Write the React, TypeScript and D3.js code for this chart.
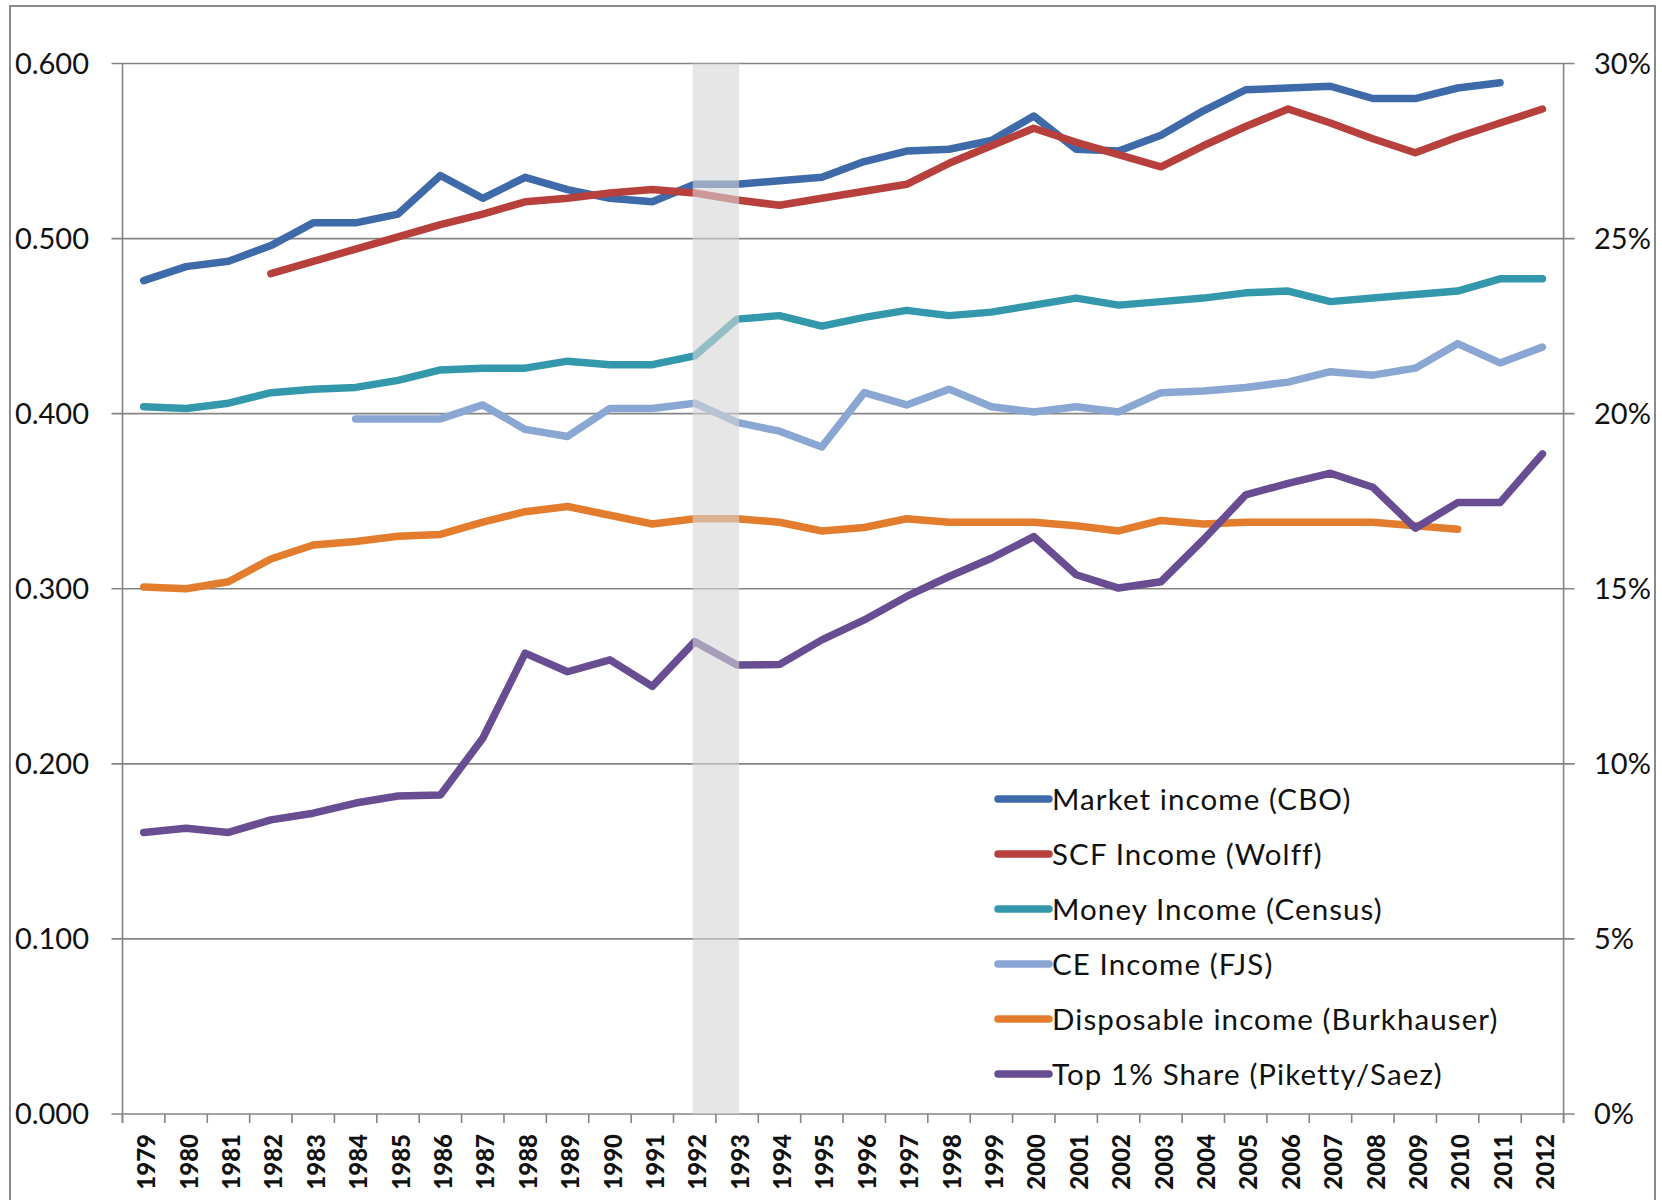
import React from "react";
import * as d3 from "d3";

const years = d3.range(1979, 2013).map(String);

const marketIncomeCBO = [0.476,0.484,0.487,0.496,0.509,0.509,0.514,0.536,0.523,0.535,0.528,0.523,0.521,0.531,0.531,0.533,0.535,0.544,0.550,0.551,0.556,0.570,0.551,0.550,0.559,0.573,0.585,0.586,0.587,0.580,0.580,0.586,0.589,null];
const scfIncomeWolff = [null,null,null,0.480,0.487,0.494,0.501,0.508,0.514,0.521,0.523,0.526,0.528,0.526,0.522,0.519,0.523,0.527,0.531,0.543,0.553,0.563,0.555,0.548,0.541,0.553,0.564,0.574,0.566,0.557,0.549,0.558,0.566,0.574];
const moneyIncomeCensus = [0.404,0.403,0.406,0.412,0.414,0.415,0.419,0.425,0.426,0.426,0.430,0.428,0.428,0.433,0.454,0.456,0.450,0.455,0.459,0.456,0.458,0.462,0.466,0.462,0.464,0.466,0.469,0.470,0.464,0.466,0.468,0.470,0.477,0.477];
const ceIncomeFJS = [null,null,null,null,null,0.397,0.397,0.397,0.405,0.391,0.387,0.403,0.403,0.406,0.395,0.390,0.381,0.412,0.405,0.414,0.404,0.401,0.404,0.401,0.412,0.413,0.415,0.418,0.424,0.422,0.426,0.440,0.429,0.438];
const disposableBurkhauser = [0.301,0.300,0.304,0.317,0.325,0.327,0.330,0.331,0.338,0.344,0.347,0.342,0.337,0.340,0.340,0.338,0.333,0.335,0.340,0.338,0.338,0.338,0.336,0.333,0.339,0.337,0.338,0.338,0.338,0.338,0.336,0.334,null,null];
const top1SharePct = [8.04,8.16,8.04,8.40,8.59,8.88,9.08,9.11,10.73,13.16,12.63,12.97,12.21,13.49,12.82,12.84,13.54,14.11,14.78,15.35,15.87,16.49,15.40,15.02,15.20,16.40,17.68,18.01,18.30,17.90,16.73,17.46,17.46,18.85];

const leftTicks = [0, 0.1, 0.2, 0.3, 0.4, 0.5, 0.6];
const rightTicks = [0, 5, 10, 15, 20, 25, 30];
const bandYears = ["1992", "1993"];

const seriesNames = [
  "Market income (CBO)",
  "SCF Income (Wolff)",
  "Money Income (Census)",
  "CE Income (FJS)",
  "Disposable income (Burkhauser)",
  "Top 1% Share (Piketty/Saez)",
];
const seriesColors = ["#3e6aa9", "#b8403c", "#3398ab", "#8aa6d3", "#e37d2d", "#684d92"];

const FONT = "Lato, 'Open Sans', sans-serif";

export default function App() {
  const W = 1662, H = 1200;
  const left = 122.5, right = 1563.6, top = 63.5, bottom = 1114;

  const x = d3.scaleBand().domain(years).range([left, right]).padding(0);
  const bw = x.bandwidth();
  const cx = (yr: string) => (x(yr) as number) + bw / 2;
  const yL = d3.scaleLinear().domain([0, 0.6]).range([bottom, top]);
  const yR = d3.scaleLinear().domain([0, 30]).range([bottom, top]);

  const series = [
    { vals: marketIncomeCBO, y: yL },
    { vals: scfIncomeWolff, y: yL },
    { vals: moneyIncomeCensus, y: yL },
    { vals: ceIncomeFJS, y: yL },
    { vals: disposableBurkhauser, y: yL },
    { vals: top1SharePct, y: yR },
  ];

  const mkLine = (sc: d3.ScaleLinear<number, number>) =>
    d3
      .line<[string, number | null]>()
      .defined((d) => d[1] != null)
      .x((d) => cx(d[0]))
      .y((d) => sc(d[1] as number));

  const gridColor = "#858585";
  const xTickPositions = d3.range(years.length + 1).map((i) => left + i * bw);

  const legendX0 = 998, legendX1 = 1049, legendTextX = 1052;
  const legendY0 = 799, legendDy = 55;

  return (
    <svg
      width={W}
      height={H}
      style={{ position: "absolute", left: 0, top: 0, background: "#fff" }}
      fontFamily={FONT}
    >
      <rect x={0} y={0} width={W} height={H} fill="#fff" />
      <rect x={10} y={6} width={1645} height={1250} fill="none" stroke="#8a8a8a" strokeWidth={2} />

      {/* gridlines */}
      {leftTicks.map((t) => (
        <line key={"g" + t} x1={left - 11} x2={right + 11} y1={yL(t)} y2={yL(t)} stroke={gridColor} strokeWidth={1.6} />
      ))}
      {/* axes */}
      <line x1={left} x2={left} y1={top} y2={bottom + 9} stroke={gridColor} strokeWidth={1.6} />
      <line x1={right} x2={right} y1={top} y2={bottom + 9} stroke={gridColor} strokeWidth={1.6} />
      {xTickPositions.map((px, i) => (
        <line key={"xt" + i} x1={px} x2={px} y1={bottom} y2={bottom + 9} stroke={gridColor} strokeWidth={1.6} />
      ))}

      {/* left labels */}
      {leftTicks.map((t) => (
        <text key={"ll" + t} x={89} y={yL(t)} dy="0.36em" textAnchor="end" fontSize={29} fill="#111">
          {d3.format(".3f")(t)}
        </text>
      ))}
      {/* right labels */}
      {rightTicks.map((t) => (
        <text key={"rl" + t} x={1594} y={yR(t)} dy="0.36em" textAnchor="start" fontSize={29} fill="#111">
          {t + "%"}
        </text>
      ))}
      {/* x labels */}
      {years.map((yr) => (
        <text
          key={"xl" + yr}
          transform={`translate(${cx(yr) + 3},${bottom + 20}) rotate(-90)`}
          textAnchor="end"
          dy="0.36em"
          fontSize={24}
          fontWeight={900}
          fill="#111"
        >
          {yr}
        </text>
      ))}

      {/* series lines */}
      {series.map((s, i) => (
        <path
          key={"s" + i}
          d={mkLine(s.y)(years.map((yr, j) => [yr, s.vals[j]] as [string, number | null])) || ""}
          fill="none"
          stroke={seriesColors[i]}
          strokeWidth={7.5}
          strokeLinejoin="round"
          strokeLinecap="round"
        />
      ))}

      {/* shaded band overlay */}
      <rect
        x={cx(bandYears[0]) - 2}
        y={yL(0.6)}
        width={cx(bandYears[1]) - cx(bandYears[0]) + 4}
        height={yL(0) - yL(0.6)}
        fill="#d6d6d6"
        opacity={0.6}
      />

      {/* legend */}
      {seriesNames.map((name, i) => {
        const ly = legendY0 + i * legendDy;
        return (
          <g key={"lg" + i}>
            <line x1={legendX0} x2={legendX1} y1={ly} y2={ly} stroke={seriesColors[i]} strokeWidth={7.5} strokeLinecap="round" />
            <text x={legendTextX} y={ly} dy="0.36em" fontSize={29.5} letterSpacing={1.1} fill="#111">
              {name}
            </text>
          </g>
        );
      })}
    </svg>
  );
}
